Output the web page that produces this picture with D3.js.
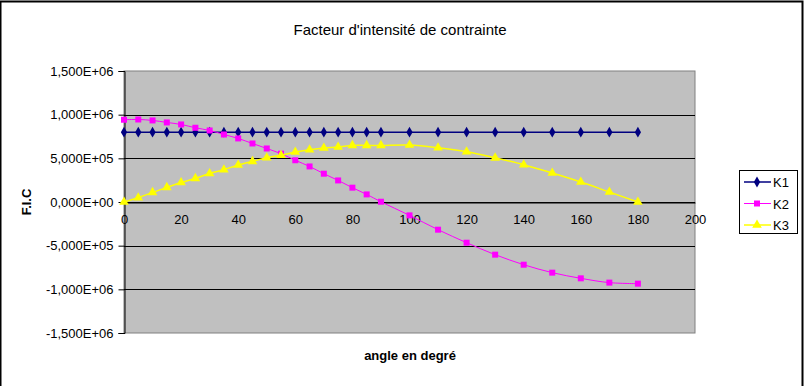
<!DOCTYPE html>
<html><head><meta charset="utf-8">
<script src="https://cdn.jsdelivr.net/npm/d3@7"></script>
<style>body{margin:0;background:#fff}svg{display:block}text{font-family:Arial,"Liberation Sans",sans-serif}</style>
</head><body><svg id="c" width="804" height="386"></svg>
<script>
const title = "Facteur d'intensité de contrainte";
const xLabel = "angle en degré";
const yLabel = "F.I.C";
const angles = [0,5,10,15,20,25,30,35,40,45,50,55,60,65,70,75,80,85,90,100,110,120,130,140,150,160,170,180];
const K1 = [800000,800000,800000,800000,800000,800000,800000,800000,800000,800000,800000,800000,800000,800000,800000,800000,800000,800000,800000,800000,800000,800000,800000,800000,800000,800000,800000,800000];
const K2 = [942000,945000,934000,911000,888000,850000,819000,773000,728000,670000,613000,553000,478000,407000,324000,247000,164000,87000,3000,-153000,-317000,-466000,-603000,-718000,-809000,-874000,-923000,-935000];
const K3 = [0,49000,110000,167000,224000,270000,327000,370000,423000,465000,507000,536000,572000,598000,618000,629000,648000,648000,648000,652000,621000,575000,505000,427000,332000,229000,114000,0];
const seriesNames = ["K1","K2","K3"];
const xTicks = [0,20,40,60,80,100,120,140,160,180,200];
const yTicks = [-1500000,-1000000,-500000,0,500000,1000000,1500000];

const series = [
  {name:"K1", values:K1, color:"#000080", symbol:d3.symbolDiamond, size:34, width:1.5},
  {name:"K2", values:K2, color:"#FF00FF", symbol:d3.symbolSquare, size:36, width:1},
  {name:"K3", values:K3, color:"#FFFF00", symbol:d3.symbolTriangle, size:40, width:1.5}
];

const svg = d3.select("#c");
const L=124,R=695,T=71,B=333;
const x = d3.scaleLinear().domain([0,200]).range([L,R]);
const y = d3.scaleLinear().domain([-1500000,1500000]).range([B,T]);

svg.append("path").attr("d","M0.5,386 V1.5 H802.5 V386").attr("fill","none").attr("stroke","#000").attr("stroke-width",2);

svg.append("rect").attr("x",L).attr("y",T).attr("width",R-L).attr("height",B-T).attr("fill","#C0C0C0").attr("stroke","#808080").attr("stroke-width",1);

svg.append("g").selectAll("line").data(yTicks.filter(d=>d!==1500000&&d!==-1500000)).join("line")
  .attr("x1",L).attr("x2",R).attr("y1",d=>Math.round(y(d))+0.5).attr("y2",d=>Math.round(y(d))+0.5)
  .attr("stroke","#000").attr("stroke-width",1);

const fmt = v => {
  const s = v.toExponential(3).split("e");
  const e = parseInt(s[1]);
  return s[0].replace(".",",")+"E"+(e<0?"-":"+")+String(Math.abs(e)).padStart(2,"0");
};

const ya = svg.append("g").attr("transform",`translate(${L+0.5},0)`)
  .call(d3.axisLeft(y).tickValues(yTicks).tickFormat(fmt).tickSize(6).tickPadding(5));
ya.select(".domain").attr("stroke","#000");
ya.selectAll("text").attr("font-size",13).attr("fill","#000");

const xa = svg.append("g").attr("transform",`translate(0,${Math.round(y(0))+0.5})`)
  .call(d3.axisBottom(x).tickValues(xTicks).tickFormat(d3.format("d")).tickSize(0).tickPadding(12));
xa.select(".domain").attr("stroke","#000");
xa.selectAll("text").attr("font-size",13).attr("fill","#000");

const line = d3.line().x((d,i)=>x(angles[i])).y(d=>y(d)).curve(d3.curveCatmullRom.alpha(0.5));
series.forEach(s=>{
  svg.append("path").datum(s.values).attr("d",line).attr("fill","none").attr("stroke",s.color).attr("stroke-width",s.width);
  svg.append("g").selectAll("path").data(s.values).join("path")
    .attr("transform",(d,i)=>`translate(${x(angles[i])},${y(d)})`)
    .attr("d",d3.symbol().type(s.symbol).size(s.size)).attr("fill",s.color);
});

svg.append("text").attr("x",400).attr("y",35).attr("text-anchor","middle").attr("font-size",15).text(title);
svg.append("text").attr("x",410).attr("y",360).attr("text-anchor","middle").attr("font-size",13).attr("font-weight","bold").text(xLabel);
svg.append("text").attr("transform","translate(31,202) rotate(-90)").attr("text-anchor","middle").attr("font-size",13).attr("font-weight","bold").text(yLabel);

const lg = svg.append("g");
lg.append("rect").attr("x",739.5).attr("y",170.5).attr("width",58).attr("height",63).attr("fill","#fff").attr("stroke","#000");
series.forEach((s,i)=>{
  const yy = 182+i*21.5;
  lg.append("line").attr("x1",744).attr("x2",771).attr("y1",yy).attr("y2",yy).attr("stroke",s.color).attr("stroke-width",s.width);
  lg.append("path").attr("transform",`translate(757,${yy})`).attr("d",d3.symbol().type(s.symbol).size(s.size)).attr("fill",s.color);
  lg.append("text").attr("x",773).attr("y",yy+5).attr("font-size",13).text(seriesNames[i]);
});
</script></body></html>
